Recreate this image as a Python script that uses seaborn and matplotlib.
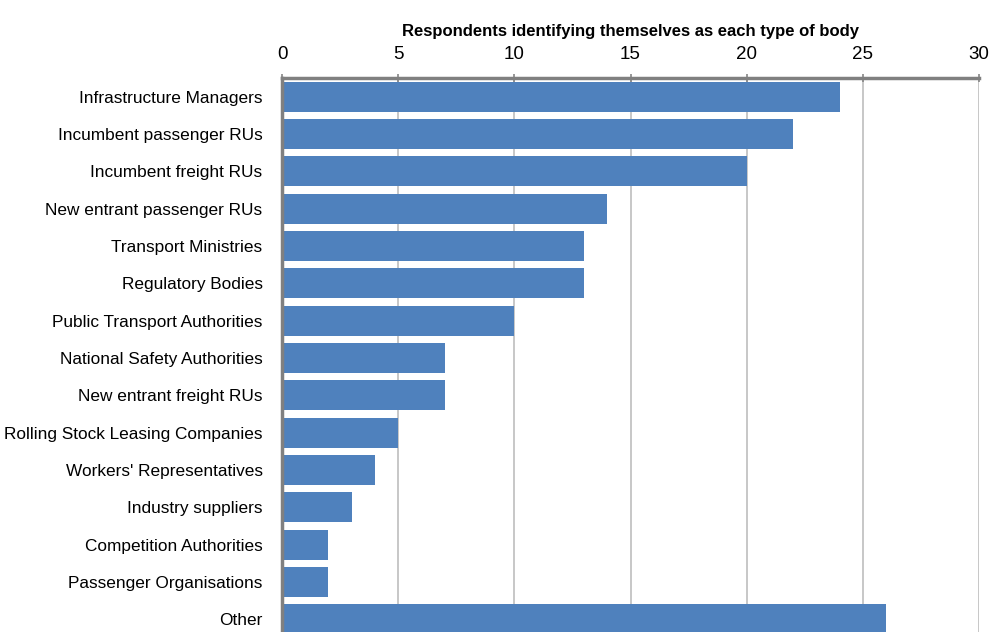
import matplotlib
matplotlib.use("Agg")
import matplotlib.pyplot as plt
import seaborn as sns
import pandas as pd

categories = [
    "Infrastructure Managers",
    "Incumbent passenger RUs",
    "Incumbent freight RUs",
    "New entrant passenger RUs",
    "Transport Ministries",
    "Regulatory Bodies",
    "Public Transport Authorities",
    "National Safety Authorities",
    "New entrant freight RUs",
    "Rolling Stock Leasing Companies",
    "Workers' Representatives",
    "Industry suppliers",
    "Competition Authorities",
    "Passenger Organisations",
    "Other",
]
values = [24, 22, 20, 14, 13, 13, 10, 7, 7, 5, 4, 3, 2, 2, 26]
xticks = [0, 5, 10, 15, 20, 25, 30]
title = "Respondents identifying themselves as each type of body"

sns.set_style("white")
plt.rcParams['font.family'] = ['Liberation Sans', 'DejaVu Sans']
plt.rcParams['text.color'] = 'black'

df = pd.DataFrame({"category": categories, "value": values})

fig = plt.figure(figsize=(9.9, 6.32), dpi=100)
ax = fig.add_axes([282/990, 1 - 638/632, (979-282)/990, (638-78)/632])

sns.barplot(data=df, y="category", x="value", orient="h", color="#4F81BD",
            saturation=1, width=0.8, ax=ax, edgecolor="none")

ax.set_xlim(0, 30)
ax.set_ylim(14.5, -0.5)
ax.set_xticks(xticks)
ax.xaxis.set_ticks_position("top")
ax.xaxis.set_label_position("top")
ax.set_xticklabels([str(t) for t in xticks], fontsize=13.5)
ax.tick_params(axis="x", direction="inout", length=6, width=1.2, color="#868686",
               pad=8, labelcolor="black")
ax.tick_params(axis="y", length=0, pad=14, labelsize=12.4, labelcolor="black")
ax.set_ylabel("")
ax.set_xlabel(title, fontsize=12, fontweight="bold", labelpad=7, color="black")

ax.grid(axis="x", color="#BEBEBE", linewidth=1.2)
ax.set_axisbelow(True)
for s in ["right", "bottom"]:
    ax.spines[s].set_visible(False)
for s in ["top", "left"]:
    ax.spines[s].set_color("#808080")
    ax.spines[s].set_linewidth(2.5)

fig.savefig("out.png", dpi=100)
